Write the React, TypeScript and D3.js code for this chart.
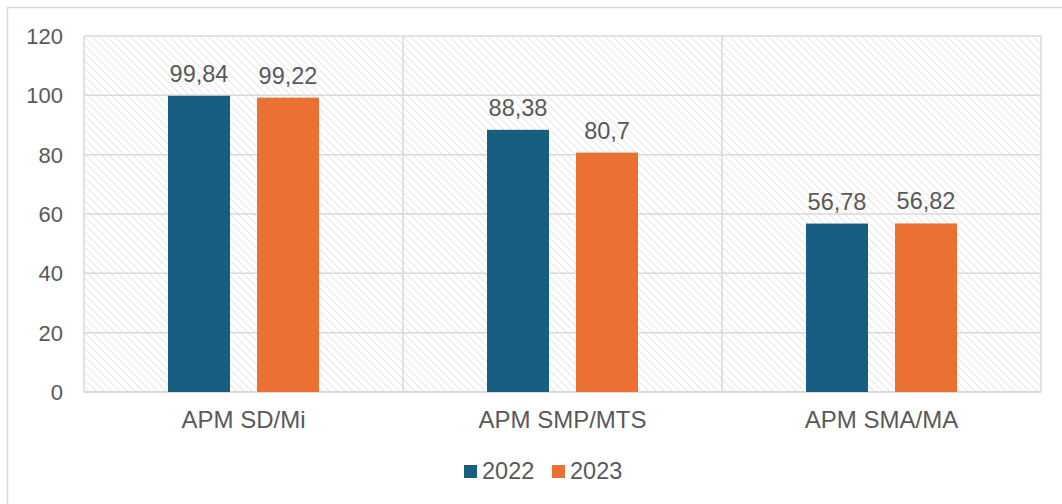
import React from "react";
import * as d3 from "d3";

const categories = ["APM SD/Mi", "APM SMP/MTS", "APM SMA/MA"];
const seriesNames = ["2022", "2023"];
const values2022 = [99.84, 88.38, 56.78];
const values2023 = [99.22, 80.7, 56.82];
const valueLabels2022 = ["99,84", "88,38", "56,78"];
const valueLabels2023 = ["99,22", "80,7", "56,82"];
const yTicks = [0, 20, 40, 60, 80, 100, 120];

const colors = ["#175E80", "#EA7132"];
const W = 1062;
const H = 504;
const plot = { left: 84, right: 1041, top: 36, bottom: 392 };
const font = "'Liberation Sans', Arial, sans-serif";
const textColor = "#595959";
const gridColor = "#d9d9d9";

export default function App() {
  const x0 = d3.scaleBand<string>().domain(categories).range([plot.left, plot.right]).padding(0);
  const bw = x0.bandwidth();
  const groupW = 151;
  const x1 = d3
    .scaleBand<string>()
    .domain(seriesNames)
    .range([(bw - groupW) / 2, (bw + groupW) / 2])
    .paddingInner(27 / 89)
    .paddingOuter(0);
  const y = d3.scaleLinear().domain([0, 120]).range([plot.bottom, plot.top]);
  const seriesVals = [values2022, values2023];
  const seriesLabels = [valueLabels2022, valueLabels2023];

  return (
    <svg width={W} height={H} style={{ position: "absolute", left: 0, top: 0, background: "#fff" }}>
      <defs>
        <pattern id="hatch" patternUnits="userSpaceOnUse" width={5.5} height={5.5} patternTransform="rotate(-45)">
          <line x1={0} y1={0} x2={0} y2={5.5} stroke="#dedede" strokeWidth={1.5} />
        </pattern>
      </defs>
      <rect x={7.5} y={7.5} width={W} height={H} fill="#fff" stroke={gridColor} strokeWidth={1.5} />
      <rect
        x={plot.left}
        y={plot.top}
        width={plot.right - plot.left}
        height={plot.bottom - plot.top}
        fill="url(#hatch)"
      />
      {yTicks.map((t) => (
        <line key={"g" + t} x1={plot.left} x2={plot.right} y1={y(t)} y2={y(t)} stroke={gridColor} strokeWidth={1.5} />
      ))}
      {[...categories.map((c) => x0(c) as number), plot.right].map((xv, i) => (
        <line key={"v" + i} x1={xv} x2={xv} y1={plot.top} y2={plot.bottom} stroke={gridColor} strokeWidth={1.5} />
      ))}
      <line x1={plot.left} x2={plot.right} y1={y(0)} y2={y(0)} stroke={gridColor} strokeWidth={2} />
      {yTicks.map((t) => (
        <text
          key={"t" + t}
          x={63}
          y={y(t)}
          dy="0.36em"
          textAnchor="end"
          fontFamily={font}
          fontSize={22}
          fill={textColor}
        >
          {t}
        </text>
      ))}
      {categories.map((c, ci) => (
        <g key={c} transform={`translate(${x0(c)},0)`}>
          {seriesNames.map((s, si) => {
            const v = seriesVals[si][ci];
            const bx = x1(s) as number;
            return (
              <g key={s}>
                <rect x={bx} y={y(v)} width={x1.bandwidth()} height={y(0) - y(v)} fill={colors[si]} />
                <text
                  x={bx + x1.bandwidth() / 2}
                  y={y(v) - 14}
                  textAnchor="middle"
                  fontFamily={font}
                  fontSize={23.5}
                  fill={textColor}
                >
                  {seriesLabels[si][ci]}
                </text>
              </g>
            );
          })}
          <text x={bw / 2} y={428} textAnchor="middle" fontFamily={font} fontSize={24} fill={textColor}>
            {c}
          </text>
        </g>
      ))}
      {seriesNames.map((s, si) => {
        const lx = 464 + si * 88;
        return (
          <g key={"l" + s}>
            <rect x={lx} y={465} width={13} height={13} fill={colors[si]} />
            <text x={lx + 18} y={479} fontFamily={font} fontSize={23.5} fill={textColor}>
              {s}
            </text>
          </g>
        );
      })}
    </svg>
  );
}
